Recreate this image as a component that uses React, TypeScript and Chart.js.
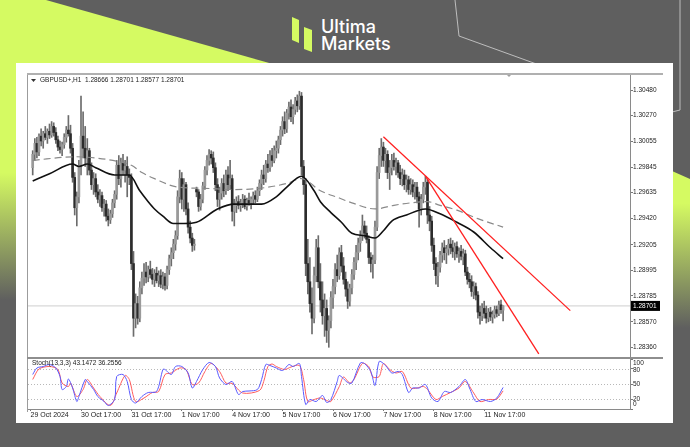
import React, { useEffect, useRef } from 'react';
import { Chart, registerables } from 'chart.js';

Chart.register(...registerables);

const FONT = "'Liberation Sans', Arial, sans-serif";

// ---------- GBPUSD+ H1 candles (bar index 0 = 29 Oct 18:00) ----------
const opens = [
  1.2984, 1.2995, 1.3004, 1.2997, 1.3010, 1.3006, 1.3012, 1.3009, 1.3014, 1.3011,
  1.3018, 1.3013, 1.3007, 1.3001, 1.2999, 1.3003, 1.3009, 1.3015, 1.3012, 1.3000,
  1.2976, 1.2951, 1.2960, 1.2986, 1.3010, 1.3000, 1.2992, 1.2998, 1.2982, 1.2970,
  1.2975, 1.2964, 1.2958, 1.2961, 1.2951, 1.2954, 1.2944, 1.2941, 1.2946, 1.2955,
  1.2962, 1.2986, 1.2975, 1.2988, 1.2982, 1.2985, 1.2978, 1.2976, 1.2905, 1.2860,
  1.2872, 1.2860, 1.2885, 1.2893, 1.2898, 1.2894, 1.2900, 1.2896, 1.2892, 1.2897,
  1.2891, 1.2895, 1.2888, 1.2894, 1.2887, 1.2900, 1.2909, 1.2914, 1.2921, 1.2928,
  1.2960, 1.2975, 1.2958, 1.2970, 1.2950, 1.2935, 1.2926, 1.2920, 1.2966, 1.2964,
  1.2952, 1.2958, 1.2969, 1.2982, 1.2990, 1.2995, 1.2992, 1.2984, 1.2970, 1.2958,
  1.2963, 1.2971, 1.2965, 1.2978, 1.2970, 1.2975, 1.2948, 1.2953, 1.2956, 1.2953,
  1.2955, 1.2958, 1.2952, 1.2957, 1.2955, 1.2958, 1.2961, 1.2958, 1.2965, 1.2971,
  1.2978, 1.2975, 1.2987, 1.2984, 1.2994, 1.2990, 1.2998, 1.3000, 1.3007, 1.3015,
  1.3022, 1.3016, 1.3029, 1.3034, 1.3026, 1.3032, 1.3039, 1.3035, 1.3043, 1.2985,
  1.2970, 1.2905, 1.2890, 1.2872, 1.2860, 1.2895, 1.2918, 1.2890, 1.2875, 1.2862,
  1.2868, 1.2850, 1.2858, 1.2877, 1.2886, 1.2900, 1.2895, 1.2914, 1.2903, 1.2892,
  1.2884, 1.2874, 1.2885, 1.2896, 1.2906, 1.2914, 1.2922, 1.2928, 1.2936, 1.2930,
  1.2925, 1.2910, 1.2905, 1.2908, 1.2935, 1.2980, 1.2994, 1.3001, 1.2990, 1.2995,
  1.2980, 1.2984, 1.2990, 1.2985, 1.2988, 1.2980, 1.2975, 1.2978, 1.2970, 1.2974,
  1.2966, 1.2970, 1.2964, 1.2968, 1.2960, 1.2950, 1.2958, 1.2968, 1.2972, 1.2945,
  1.2940, 1.2920, 1.2905, 1.2895, 1.2902, 1.2912, 1.2918, 1.2914, 1.2917, 1.2921,
  1.2918, 1.2915, 1.2919, 1.2913, 1.2915, 1.2911, 1.2913, 1.2898, 1.2892, 1.2890,
  1.2882, 1.2886, 1.2879, 1.2865, 1.2862, 1.2868, 1.2864, 1.2860, 1.2865, 1.2861,
  1.2863, 1.2867, 1.2864, 1.2871, 1.28666,
];
const highs = [
  1.2998, 1.3008, 1.3009, 1.3012, 1.3016, 1.3014, 1.3018, 1.3016, 1.3020, 1.3022,
  1.3021, 1.3017, 1.3010, 1.3006, 1.3005, 1.3012, 1.3018, 1.3027, 1.3019, 1.3004,
  1.2980, 1.2964, 1.2990, 1.3043, 1.3030, 1.3018, 1.3008, 1.3000, 1.2988, 1.2980,
  1.2979, 1.2970, 1.2966, 1.2964, 1.2958, 1.2957, 1.2950, 1.2949, 1.2958, 1.2965,
  1.2990, 1.2994, 1.2992, 1.2995, 1.2990, 1.2993, 1.2983, 1.2979, 1.2915, 1.2880,
  1.2878, 1.2890, 1.2898, 1.2905, 1.2906, 1.2903, 1.2907, 1.2901, 1.2900, 1.2902,
  1.2899, 1.2900, 1.2898, 1.2897, 1.2903, 1.2912, 1.2918, 1.2925, 1.2932, 1.2965,
  1.2982, 1.2980, 1.2975, 1.2972, 1.2955, 1.2940, 1.2930, 1.2925, 1.2968, 1.2966,
  1.2962, 1.2972, 1.2985, 1.2994, 1.2999, 1.2998, 1.2997, 1.2988, 1.2975, 1.2968,
  1.2975, 1.2978, 1.2982, 1.2985, 1.2990, 1.2978, 1.2958, 1.2960, 1.2961, 1.2958,
  1.2962, 1.2961, 1.2959, 1.2963, 1.2960, 1.2964, 1.2965, 1.2968, 1.2974, 1.2982,
  1.2986, 1.2990, 1.2995, 1.2998, 1.3000, 1.3002, 1.3006, 1.3010, 1.3018, 1.3026,
  1.3030, 1.3032, 1.3038, 1.3040, 1.3036, 1.3042, 1.3044, 1.3047, 1.3046, 1.2990,
  1.2975, 1.2925, 1.2910, 1.2885, 1.2902, 1.2925, 1.2928, 1.2905, 1.2890, 1.2880,
  1.2875, 1.2862, 1.2882, 1.2892, 1.2905, 1.2912, 1.2918, 1.2920, 1.2910, 1.2898,
  1.2890, 1.2888, 1.2900, 1.2910, 1.2920, 1.2926, 1.2932, 1.2945, 1.2940, 1.2936,
  1.2928, 1.2914, 1.2912, 1.2940, 1.2985, 1.3000, 1.3008, 1.3005, 1.3000, 1.2998,
  1.2990, 1.2995, 1.2996, 1.2992, 1.2990, 1.2986, 1.2983, 1.2982, 1.2978, 1.2977,
  1.2975, 1.2974, 1.2972, 1.2972, 1.2964, 1.2962, 1.2972, 1.2977, 1.2974, 1.2952,
  1.2944, 1.2926, 1.2910, 1.2906, 1.2915, 1.2922, 1.2924, 1.2920, 1.2925, 1.2926,
  1.2924, 1.2922, 1.2923, 1.2918, 1.2920, 1.2917, 1.2916, 1.2902, 1.2897, 1.2895,
  1.2890, 1.2889, 1.2882, 1.2870, 1.2872, 1.2874, 1.2870, 1.2868, 1.2869, 1.2866,
  1.2870, 1.2870, 1.2874, 1.2875, 1.28701,
];
const lows = [
  1.2978, 1.2990, 1.2992, 1.2994, 1.3002, 1.3000, 1.3007, 1.3004, 1.3008, 1.3009,
  1.3010, 1.3004, 1.2998, 1.2996, 1.2994, 1.3000, 1.3005, 1.3010, 1.2996, 1.2972,
  1.2945, 1.2936, 1.2955, 1.2978, 1.2992, 1.2985, 1.2978, 1.2978, 1.2966, 1.2962,
  1.2960, 1.2955, 1.2952, 1.2948, 1.2944, 1.2940, 1.2936, 1.2938, 1.2943, 1.2951,
  1.2958, 1.2970, 1.2968, 1.2978, 1.2972, 1.2960, 1.2970, 1.2900, 1.2845, 1.2852,
  1.2855, 1.2857, 1.2880, 1.2887, 1.2889, 1.2890, 1.2893, 1.2888, 1.2886, 1.2889,
  1.2886, 1.2885, 1.2884, 1.2883, 1.2884, 1.2896, 1.2903, 1.2909, 1.2916, 1.2925,
  1.2955, 1.2950, 1.2948, 1.2945, 1.2930, 1.2922, 1.2915, 1.2916, 1.2960, 1.2948,
  1.2949, 1.2955, 1.2966, 1.2978, 1.2986, 1.2987, 1.2980, 1.2965, 1.2952, 1.2949,
  1.2958, 1.2960, 1.2962, 1.2965, 1.2966, 1.2940, 1.2936, 1.2947, 1.2950, 1.2948,
  1.2951, 1.2950, 1.2949, 1.2953, 1.2950, 1.2954, 1.2955, 1.2956, 1.2961, 1.2966,
  1.2970, 1.2972, 1.2980, 1.2981, 1.2985, 1.2988, 1.2992, 1.2996, 1.3003, 1.3010,
  1.3012, 1.3013, 1.3024, 1.3022, 1.3020, 1.3028, 1.3030, 1.3032, 1.2978, 1.2962,
  1.2895, 1.2880, 1.2865, 1.2847, 1.2856, 1.2890, 1.2885, 1.2865, 1.2855, 1.2845,
  1.2840, 1.2836, 1.2852, 1.2868, 1.2880, 1.2890, 1.2892, 1.2898, 1.2888, 1.2878,
  1.2868, 1.2870, 1.2880, 1.2892, 1.2900, 1.2908, 1.2915, 1.2924, 1.2926, 1.2922,
  1.2905, 1.2898, 1.2893, 1.2905, 1.2932, 1.2975, 1.2985, 1.2985, 1.2980, 1.2975,
  1.2966, 1.2978, 1.2982, 1.2978, 1.2976, 1.2970, 1.2969, 1.2966, 1.2964, 1.2962,
  1.2962, 1.2960, 1.2958, 1.2955, 1.2935, 1.2945, 1.2955, 1.2962, 1.2938, 1.2932,
  1.2915, 1.2900, 1.2888, 1.2886, 1.2898, 1.2906, 1.2908, 1.2905, 1.2912, 1.2913,
  1.2910, 1.2908, 1.2910, 1.2906, 1.2908, 1.2904, 1.2895, 1.2888, 1.2885, 1.2878,
  1.2876, 1.2875, 1.2860, 1.2855, 1.2858, 1.2860, 1.2856, 1.2857, 1.2858, 1.2856,
  1.2860, 1.2861, 1.2862, 1.2864, 1.28577,
];
const closes = [
  1.2995, 1.3004, 1.2997, 1.3010, 1.3006, 1.3012, 1.3009, 1.3014, 1.3011, 1.3018,
  1.3013, 1.3007, 1.3001, 1.2999, 1.3003, 1.3009, 1.3015, 1.3012, 1.3000, 1.2976,
  1.2951, 1.2960, 1.2986, 1.3010, 1.3000, 1.2992, 1.2998, 1.2982, 1.2970, 1.2975,
  1.2964, 1.2958, 1.2961, 1.2951, 1.2954, 1.2944, 1.2941, 1.2946, 1.2955, 1.2962,
  1.2986, 1.2975, 1.2988, 1.2982, 1.2985, 1.2978, 1.2976, 1.2905, 1.2860, 1.2872,
  1.2860, 1.2885, 1.2893, 1.2898, 1.2894, 1.2900, 1.2896, 1.2892, 1.2897, 1.2891,
  1.2895, 1.2888, 1.2894, 1.2887, 1.2900, 1.2909, 1.2914, 1.2921, 1.2928, 1.2960,
  1.2975, 1.2958, 1.2970, 1.2950, 1.2935, 1.2926, 1.2920, 1.2921, 1.2964, 1.2952,
  1.2958, 1.2969, 1.2982, 1.2990, 1.2995, 1.2992, 1.2984, 1.2970, 1.2958, 1.2963,
  1.2971, 1.2965, 1.2978, 1.2970, 1.2975, 1.2948, 1.2953, 1.2956, 1.2953, 1.2955,
  1.2958, 1.2952, 1.2957, 1.2955, 1.2958, 1.2961, 1.2958, 1.2965, 1.2971, 1.2978,
  1.2975, 1.2987, 1.2984, 1.2994, 1.2990, 1.2998, 1.3000, 1.3007, 1.3015, 1.3022,
  1.3016, 1.3029, 1.3034, 1.3026, 1.3032, 1.3039, 1.3035, 1.3043, 1.2985, 1.2970,
  1.2905, 1.2890, 1.2872, 1.2860, 1.2895, 1.2918, 1.2890, 1.2875, 1.2862, 1.2868,
  1.2850, 1.2858, 1.2877, 1.2886, 1.2900, 1.2895, 1.2914, 1.2903, 1.2892, 1.2884,
  1.2874, 1.2885, 1.2896, 1.2906, 1.2914, 1.2922, 1.2928, 1.2936, 1.2930, 1.2925,
  1.2910, 1.2905, 1.2908, 1.2935, 1.2980, 1.2994, 1.3001, 1.2990, 1.2995, 1.2980,
  1.2984, 1.2990, 1.2985, 1.2988, 1.2980, 1.2975, 1.2978, 1.2970, 1.2974, 1.2966,
  1.2970, 1.2964, 1.2968, 1.2960, 1.2950, 1.2958, 1.2968, 1.2972, 1.2945, 1.2940,
  1.2920, 1.2905, 1.2895, 1.2902, 1.2912, 1.2918, 1.2914, 1.2917, 1.2921, 1.2918,
  1.2915, 1.2919, 1.2913, 1.2915, 1.2911, 1.2913, 1.2898, 1.2892, 1.2890, 1.2882,
  1.2886, 1.2879, 1.2865, 1.2862, 1.2868, 1.2864, 1.2860, 1.2865, 1.2861, 1.2863,
  1.2867, 1.2864, 1.2871, 1.2867, 1.28701,
];

// ---------- moving averages, read at sample bars [bar, price] ----------
const maSolid = [
  [0, 1.2973], [8, 1.2979], [19, 1.2987], [22, 1.2985], [26, 1.2987], [30, 1.2984],
  [39, 1.2978], [46, 1.2978], [51, 1.2965], [55, 1.2956], [58, 1.2950], [62, 1.2944],
  [67, 1.2938], [72, 1.2938], [78, 1.2939], [88, 1.2950], [96, 1.2954], [104, 1.2954],
  [109, 1.2954], [116, 1.2960], [121, 1.2968], [128, 1.2977], [134, 1.2965], [137, 1.2956],
  [142, 1.2947], [147, 1.2939], [152, 1.2930], [158, 1.2928], [163, 1.2926], [167, 1.2932],
  [171, 1.2940], [178, 1.2945], [187, 1.2950], [194, 1.2946], [202, 1.2939], [210, 1.2931],
  [218, 1.2918], [224, 1.2909],
];
const maDashed = [
  [0, 1.2990], [20, 1.2993], [30, 1.2992], [41, 1.2989], [47, 1.2986], [52, 1.2980],
  [58, 1.2975], [69, 1.2968], [82, 1.2967], [96, 1.2966], [108, 1.2967], [121, 1.2971],
  [128, 1.2975], [137, 1.2965], [146, 1.2959], [152, 1.2955], [163, 1.2950], [172, 1.2953],
  [180, 1.2955], [188, 1.2956], [194, 1.2953], [202, 1.2949], [212, 1.2942], [224, 1.2935],
];

// ---------- trend lines [bar, price] ----------
const trendLineA = [[167, 1.30095], [256, 1.28662]];
const trendLineB = [[187, 1.29771], [241, 1.28305]];

const lastPrice = 1.28701;
const symbolName = 'GBPUSD+,H1';
const priceTicks = [1.3048, 1.3027, 1.30055, 1.29845, 1.29635, 1.2942, 1.29205, 1.28995, 1.28785, 1.2857, 1.2836];

// ---------- stochastic (13,3,3) [bar, value] ----------
const stochMainLast = 43.1472;
const stochSignalLast = 36.2556;
const stochMain = [
  [0, 69], [2, 82], [5, 85], [8, 89], [11, 82], [13, 65], [14, 39], [16, 45], [17, 60], [19, 42],
  [21, 15], [22, 25], [25, 59], [26, 55], [29, 39], [31, 25], [34, 15], [36, 7], [39, 19], [40, 65],
  [43, 69], [45, 55], [47, 19], [49, 12], [52, 25], [55, 33], [59, 35], [62, 79], [63, 79], [66, 69],
  [68, 85], [71, 85], [74, 72], [76, 42], [78, 55], [81, 79], [84, 93], [87, 85], [89, 62], [92, 49],
  [95, 55], [98, 29], [100, 35], [103, 36], [107, 39], [109, 59], [111, 89], [113, 87], [116, 82],
  [119, 77], [122, 89], [124, 85], [127, 91], [128, 65], [130, 9], [132, 19], [135, 15], [138, 27],
  [140, 13], [142, 19], [145, 55], [146, 67], [150, 53], [152, 52], [156, 92], [158, 91], [161, 75],
  [163, 47], [165, 95], [168, 87], [171, 72], [174, 75], [176, 69], [179, 33], [181, 42], [184, 42],
  [187, 49], [190, 22], [193, 15], [196, 35], [199, 33], [203, 45], [206, 59], [208, 42], [211, 15],
  [214, 19], [218, 15], [221, 22], [224, stochMainLast],
];
const stochSignal = [
  [0, 59], [3, 80], [8, 85], [12, 79], [14, 52], [17, 45], [18, 52], [21, 25], [24, 39], [26, 59],
  [29, 42], [32, 25], [37, 7], [40, 32], [44, 67], [46, 59], [49, 15], [53, 22], [57, 33], [60, 35],
  [63, 69], [66, 72], [70, 82], [73, 79], [76, 49], [79, 52], [82, 75], [85, 91], [89, 75], [92, 52],
  [95, 51], [100, 32], [108, 37], [110, 55], [112, 85], [114, 90], [116, 85], [120, 79], [123, 84],
  [127, 87], [129, 59], [131, 15], [134, 19], [137, 22], [140, 17], [142, 15], [146, 45], [148, 64],
  [151, 52], [153, 59], [157, 91], [160, 85], [162, 64], [165, 65], [167, 91], [170, 79], [173, 72],
  [176, 75], [180, 42], [183, 42], [186, 45], [188, 39], [192, 19], [195, 25], [199, 33], [203, 42],
  [206, 55], [210, 32], [213, 15], [217, 19], [221, 20], [224, stochSignalLast],
];
const stochLevels = [20, 50, 80];
const stochTicks = [0, 20, 50, 80, 100];

// ---------- time axis ----------
const xTickBars = [-1, 23, 47, 71, 95, 119, 143, 167, 191, 215];
const xTickLabels = ['29 Oct 2024', '30 Oct 17:00', '31 Oct 17:00', '1 Nov 17:00', '4 Nov 17:00', '5 Nov 17:00', '6 Nov 17:00', '7 Nov 17:00', '8 Nov 17:00', '11 Nov 17:00'];

const X_MIN = -2.24;
const X_MAX = 284.43;
const Y_MIN = 1.2828;
const Y_MAX = 1.30612;

const toPts = (arr: number[][]) => arr.map(([x, y]) => ({ x, y }));

const zeroPad = (s: any) => {
  s.paddingTop = 0;
  s.paddingBottom = 0;
  s.paddingLeft = 0;
  s.paddingRight = 0;
};

function MainChart() {
  const ref = useRef<HTMLCanvasElement | null>(null);
  useEffect(() => {
    const canvas = ref.current;
    if (!canvas) return;
    const idx = opens.map((_, i) => i);
    const last = idx.length - 1;
    const wickData = idx.map((i) => ({ x: i, y: [lows[i], highs[i]] }));
    const bodyData = idx.map((i) => ({ x: i, y: [opens[i], closes[i]] }));
    const bodyColors = idx.map((i) => (closes[i] >= opens[i] ? '#9a9a9a' : '#2c2c2c'));
    const title = `${symbolName}  ${opens[last].toFixed(5)} ${highs[last].toFixed(5)} ${lows[last].toFixed(5)} ${closes[last].toFixed(5)}`;

    const overlay = {
      id: 'mainOverlay',
      afterDraw(chart: any) {
        const { ctx, chartArea, scales } = chart;
        ctx.save();
        ctx.fillStyle = '#333';
        ctx.beginPath();
        ctx.moveTo(chartArea.left + 3, chartArea.top + 5);
        ctx.lineTo(chartArea.left + 8, chartArea.top + 5);
        ctx.lineTo(chartArea.left + 5.5, chartArea.top + 8);
        ctx.closePath();
        ctx.fill();
        ctx.font = `6.5px ${FONT}`;
        ctx.textBaseline = 'middle';
        ctx.textAlign = 'left';
        ctx.fillStyle = '#222';
        ctx.fillText(title, chartArea.left + 12, chartArea.top + 6.5);
        // chart shift marker
        ctx.fillStyle = '#a0a0a0';
        const sx = scales.x.getPixelForValue(X_MAX) - 121;
        ctx.beginPath();
        ctx.moveTo(sx - 3, chartArea.top);
        ctx.lineTo(sx + 3, chartArea.top);
        ctx.lineTo(sx, chartArea.top + 3);
        ctx.closePath();
        ctx.fill();
        // last price box
        const py = scales.y.getPixelForValue(lastPrice);
        ctx.fillStyle = '#000';
        ctx.fillRect(chartArea.right + 1, py - 5, 29, 10);
        ctx.fillStyle = '#fff';
        ctx.fillText(lastPrice.toFixed(5), chartArea.right + 3, py + 0.5);
        ctx.restore();
      },
    };

    const chart = new Chart(canvas, {
      type: 'bar',
      data: {
        datasets: [
          {
            type: 'line',
            data: [{ x: X_MIN, y: lastPrice }, { x: X_MAX, y: lastPrice }],
            borderColor: '#cfcfcf',
            borderWidth: 1,
            pointRadius: 0,
            order: 10,
          } as any,
          {
            type: 'bar',
            data: wickData,
            backgroundColor: '#6c6c6c',
            barThickness: 1,
            grouped: false,
            order: 6,
          } as any,
          {
            type: 'bar',
            data: bodyData,
            backgroundColor: bodyColors,
            barThickness: 2,
            grouped: false,
            minBarLength: 1,
            order: 5,
          } as any,
          {
            type: 'line',
            data: toPts(maDashed),
            borderColor: '#8a8a8a',
            borderWidth: 1.2,
            borderDash: [7, 4],
            pointRadius: 0,
            cubicInterpolationMode: 'monotone',
            order: 3,
          } as any,
          {
            type: 'line',
            data: toPts(maSolid),
            borderColor: '#111',
            borderWidth: 1.6,
            pointRadius: 0,
            cubicInterpolationMode: 'monotone',
            order: 2,
          } as any,
          {
            type: 'line',
            data: toPts(trendLineA),
            borderColor: '#ff2020',
            borderWidth: 1.3,
            pointRadius: 0,
            order: 1,
          } as any,
          {
            type: 'line',
            data: toPts(trendLineB),
            borderColor: '#ff2020',
            borderWidth: 1.3,
            pointRadius: 0,
            order: 1,
          } as any,
        ],
      },
      options: {
        animation: false,
        responsive: false,
        devicePixelRatio: 1,
        events: [],
        layout: { padding: { left: 1, top: 1, right: 0, bottom: 1 } },
        plugins: { legend: { display: false }, tooltip: { enabled: false } },
        scales: {
          x: {
            type: 'linear',
            display: false,
            min: X_MIN,
            max: X_MAX,
            offset: false,
            afterBuildTicks: (s: any) => {
              s.ticks = xTickBars.map((v) => ({ value: v }));
            },
          },
          y: {
            type: 'linear',
            position: 'right',
            min: Y_MIN,
            max: Y_MAX,
            stacked: false,
            afterBuildTicks: (s: any) => {
              s.ticks = priceTicks.map((v) => ({ value: v }));
            },
            afterFit: (s: any) => {
              s.width = 33;
              zeroPad(s);
            },
            ticks: {
              autoSkip: false,
              padding: 0,
              color: '#222',
              font: { family: FONT, size: 6.5 },
              callback: (v: any) => Number(v).toFixed(5),
            },
            grid: { drawOnChartArea: false, drawTicks: true, tickLength: 3, color: '#777' },
            border: { display: true, color: '#8a8a8a', width: 1 },
          },
        },
      } as any,
      plugins: [overlay],
    });
    return () => chart.destroy();
  }, []);
  return <canvas ref={ref} width={636} height={285} style={{ position: 'absolute', left: 27, top: 73, width: 636, height: 285 }} />;
}

function StochChart() {
  const ref = useRef<HTMLCanvasElement | null>(null);
  useEffect(() => {
    const canvas = ref.current;
    if (!canvas) return;
    const label = `Stoch(13,3,3) ${stochMainLast.toFixed(4)} ${stochSignalLast.toFixed(4)}`;
    const labelPos: Record<number, number> = { 100: 4, 80: 10.5, 50: 0, 20: 0, 0: -4.5 };
    const overlay = {
      id: 'stochOverlay',
      beforeDatasetsDraw(chart: any) {
        const { ctx, chartArea, scales } = chart;
        ctx.save();
        ctx.strokeStyle = '#b8b8b8';
        ctx.lineWidth = 1;
        ctx.setLineDash([1, 2]);
        stochLevels.forEach((v) => {
          const y = Math.round(scales.y.getPixelForValue(v)) + 0.5;
          ctx.beginPath();
          ctx.moveTo(chartArea.left, y);
          ctx.lineTo(chartArea.right, y);
          ctx.stroke();
        });
        ctx.restore();
      },
      afterDraw(chart: any) {
        const { ctx, chartArea, scales } = chart;
        ctx.save();
        ctx.font = `6.5px ${FONT}`;
        ctx.textBaseline = 'middle';
        ctx.textAlign = 'left';
        ctx.fillStyle = '#222';
        ctx.fillText(label, chartArea.left + 4, chartArea.top + 4);
        stochTicks.forEach((v) => {
          const y = scales.y.getPixelForValue(v) + (v === 100 ? 4 : v === 80 ? 1 : v === 0 ? -4.5 : 0);
          ctx.fillText(String(v), chartArea.right + 3, y);
        });
        ctx.restore();
      },
    };
    void labelPos;
    const chart = new Chart(canvas, {
      type: 'line',
      data: {
        datasets: [
          {
            data: toPts(stochSignal),
            borderColor: '#ff5c5c',
            borderWidth: 1,
            pointRadius: 0,
            tension: 0.3,
            order: 2,
          },
          {
            data: toPts(stochMain),
            borderColor: '#5a5aff',
            borderWidth: 1,
            pointRadius: 0,
            tension: 0.3,
            order: 1,
          },
        ],
      },
      options: {
        animation: false,
        responsive: false,
        devicePixelRatio: 1,
        events: [],
        layout: { padding: { left: 1, top: 1, right: 0, bottom: 0 } },
        plugins: { legend: { display: false }, tooltip: { enabled: false } },
        scales: {
          x: {
            type: 'linear',
            min: X_MIN,
            max: X_MAX,
            offset: false,
            afterBuildTicks: (s: any) => {
              s.ticks = xTickBars.map((v) => ({ value: v }));
            },
            afterFit: (s: any) => {
              s.height = 15;
              zeroPad(s);
            },
            ticks: {
              autoSkip: false,
              maxRotation: 0,
              align: 'start',
              padding: 0,
              color: '#222',
              font: { family: FONT, size: 7 },
              callback: (_v: any, i: number) => xTickLabels[i],
            },
            grid: { drawOnChartArea: false, drawTicks: true, tickLength: 2, color: '#777' },
            border: { display: true, color: '#8a8a8a', width: 1 },
          },
          y: {
            type: 'linear',
            position: 'right',
            min: 0,
            max: 100,
            afterBuildTicks: (s: any) => {
              s.ticks = stochTicks.map((v) => ({ value: v }));
            },
            afterFit: (s: any) => {
              s.width = 33;
              zeroPad(s);
            },
            ticks: { color: 'rgba(0,0,0,0)', font: { family: FONT, size: 6.5 }, padding: 0 },
            grid: { drawOnChartArea: false, drawTicks: true, tickLength: 3, color: '#777' },
            border: { display: true, color: '#8a8a8a', width: 1 },
          },
        },
      } as any,
      plugins: [overlay],
    });
    return () => chart.destroy();
  }, []);
  return <canvas ref={ref} width={636} height={66} style={{ position: 'absolute', left: 27, top: 358, width: 636, height: 66 }} />;
}

function Background() {
  return (
    <svg width={690} height={447} style={{ position: 'absolute', left: 0, top: 0 }}>
      <defs>
        <linearGradient id="gl" gradientUnits="userSpaceOnUse" x1="0" y1="60" x2="0" y2="300">
          <stop offset="0" stopColor="#d5fa62" />
          <stop offset="0.47" stopColor="#d5fa62" />
          <stop offset="1" stopColor="#5f5f5f" />
        </linearGradient>
        <linearGradient id="gr" gradientUnits="userSpaceOnUse" x1="0" y1="172" x2="0" y2="328">
          <stop offset="0" stopColor="#d5fa62" />
          <stop offset="0.2" stopColor="#d5fa62" />
          <stop offset="1" stopColor="#5f5f5f" />
        </linearGradient>
      </defs>
      <rect x={0} y={0} width={690} height={447} fill="#5f5f5f" />
      <polygon points="0,0 46,0 280,66 0,66" fill="#d5fa62" />
      <rect x={0} y={60} width={17} height={240} fill="url(#gl)" />
      <polygon points="672,171 690,179 690,330 672,330" fill="url(#gr)" />
      <polyline points="455,0 459,36 542,66" fill="none" stroke="#bdbdbd" strokeWidth={1} />
      <polyline points="680,0 680,110 672,112" fill="none" stroke="#bdbdbd" strokeWidth={1} />
      <polygon points="292,17 299,20 299,43 292,40" fill="#d5fa62" />
      <polygon points="304,27 312,30 312,52 304,49" fill="#d5fa62" />
      <text x={321} y={33} fill="#ffffff" fontFamily="Inter, Roboto, sans-serif" fontSize={18} fontWeight={500}>Ultima</text>
      <text x={321} y={50} fill="#ffffff" fontFamily="Inter, Roboto, sans-serif" fontSize={18} fontWeight={500}>Markets</text>
    </svg>
  );
}

export default function App() {
  return (
    <div style={{ position: 'absolute', left: 0, top: 0, width: 690, height: 447, overflow: 'hidden' }}>
      <Background />
      <div style={{ position: 'absolute', left: 16, top: 63, width: 657, height: 360, background: '#ffffff' }} />
      <MainChart />
      <StochChart />
      <div style={{ position: 'absolute', left: 27, top: 73, width: 1, height: 339, background: '#9c9c9c' }} />
      <div style={{ position: 'absolute', left: 27, top: 73, width: 636, height: 2, background: '#b0b0b0' }} />
      <div style={{ position: 'absolute', left: 27, top: 357, width: 636, height: 2, background: '#8e8e8e' }} />
    </div>
  );
}
